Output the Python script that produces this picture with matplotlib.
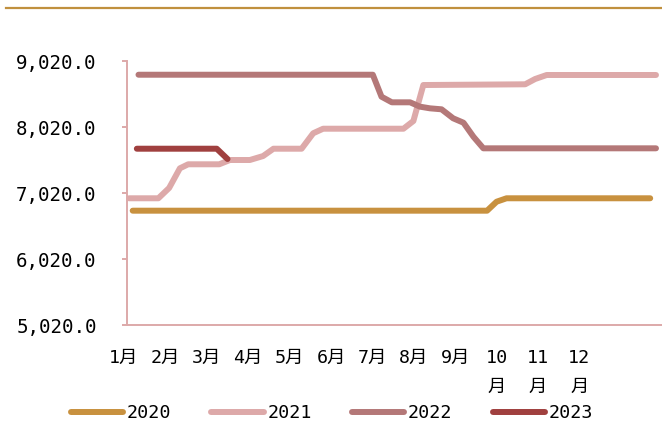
import numpy as np
import matplotlib
matplotlib.use("Agg")
import matplotlib.pyplot as plt
from matplotlib.lines import Line2D

plt.rcParams['font.family'] = ['DejaVu Sans Mono', 'Noto Sans CJK SC']

# x positions in month units (1 = 1月)
x2020 = [1.21, 9.77, 10.00, 10.24, 13.71]
y2020 = [6752, 6752, 6888, 6940, 6940]

x2021 = [1.12, 1.83, 2.09, 2.35, 2.55, 3.30, 3.56, 4.04, 4.36, 4.61, 5.29,
         5.57, 5.81, 7.75, 7.99, 8.23, 10.69, 10.93, 11.21, 13.85]
y2021 = [6940, 6940, 7096, 7394, 7455, 7455, 7520, 7520, 7580, 7691, 7691,
         7925, 7994, 7994, 8111, 8656, 8667, 8747, 8808, 8808]

x2022 = [1.35, 7.01, 7.22, 7.47, 7.91, 8.15, 8.39, 8.67, 8.95, 9.20, 9.44,
         9.68, 13.85]
y2022 = [8812, 8812, 8479, 8394, 8394, 8328, 8303, 8288, 8152, 8085, 7873,
         7697, 7697]

x2023 = [1.31, 3.24, 3.50]
y2023 = [7691, 7691, 7535]

months = ['1月', '2月', '3月', '4月', '5月', '6月', '7月', '8月', '9月',
          '10\n月', '11\n月', '12\n月']
yticks = [5020, 6020, 7020, 8020, 9020]

series = [
    ('2020', x2020, y2020, '#C8913F'),
    ('2021', x2021, y2021, '#DDA9A9'),
    ('2022', x2022, y2022, '#B47878'),
    ('2023', x2023, y2023, '#A0403F'),
]
axis_col = '#DDA9A9'
fs = 13.2

fig = plt.figure(figsize=(6.62, 4.23), dpi=100)
ax = fig.add_axes([127/662, 1 - 325/423, 535/662, 264/423])

for name, xs, ys, c in series:
    ax.plot(xs, ys, color=c, lw=4.3, solid_capstyle='round',
            solid_joinstyle='round', label=name, zorder=3)

ax.set_xlim(1 + 3/41.4, 1 + 538/41.4)
ax.set_ylim(5020, 9020)
ax.set_yticks(yticks)
ax.set_yticklabels([f'{v:,.1f}' for v in yticks], fontsize=13.8)
ax.set_xticks([])
for s in ['top', 'right']:
    ax.spines[s].set_visible(False)
for s in ['left', 'bottom']:
    ax.spines[s].set_color(axis_col)
    ax.spines[s].set_linewidth(1.4)
ax.tick_params(axis='y', length=3.8, width=1.4, color=axis_col, pad=18)

for i, lab in enumerate(months):
    ax.annotate(lab, xy=(i + 1, 0), xycoords=('data', 'axes fraction'),
                xytext=(0, -17), textcoords='offset points',
                ha='center', va='top', fontsize=fs, linespacing=1.8,
                annotation_clip=False)

# rule along the top of the figure
fig.add_artist(Line2D([6/662, 1], [1 - 8/423, 1 - 8/423],
                      color='#C0903E', lw=1.6, transform=fig.transFigure))

handles = [Line2D([], [], color=c, lw=4.3, solid_capstyle='round')
           for _, _, _, c in series]
fig.legend(handles, [s[0] for s in series], loc='center',
           bbox_to_anchor=(332/662, 1 - 413/423), ncol=4, frameon=False,
           fontsize=fs, handlelength=2.85, handletextpad=0.2,
           columnspacing=2.2, borderpad=0)

fig.savefig('out.png', dpi=100)
